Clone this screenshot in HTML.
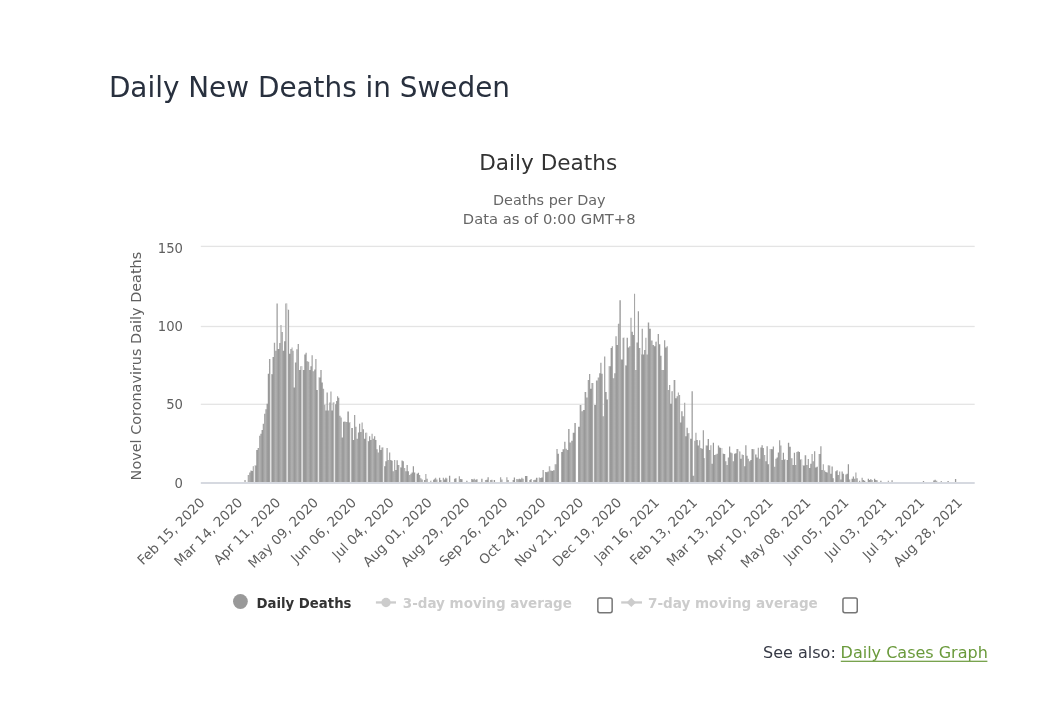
<!DOCTYPE html>
<html lang="en"><head><meta charset="utf-8"><title>Daily New Deaths in Sweden</title>
<style>html,body{margin:0;padding:0;background:#fff;}svg{display:block;}</style></head>
<body>
<svg width="1046" height="704" viewBox="0 0 1046 704">
<rect width="1046" height="704" fill="#fff"/>
<text x="108.9" y="96.8" font-family='"DejaVu Sans", "Liberation Sans", sans-serif' font-size="28.2" fill="#28303e" textLength="401.1" lengthAdjust="spacingAndGlyphs">Daily New Deaths in Sweden</text>
<text x="548.2" y="169.5" text-anchor="middle" font-family='"DejaVu Sans", "Liberation Sans", sans-serif' font-size="21.5" fill="#333" textLength="138" lengthAdjust="spacingAndGlyphs">Daily Deaths</text>
<text x="549.3" y="204.7" text-anchor="middle" font-family='"DejaVu Sans", "Liberation Sans", sans-serif' font-size="13.3" fill="#666" textLength="112.7" lengthAdjust="spacingAndGlyphs">Deaths per Day</text>
<text x="549.2" y="223.6" text-anchor="middle" font-family='"DejaVu Sans", "Liberation Sans", sans-serif' font-size="13.3" fill="#666" textLength="172.8" lengthAdjust="spacingAndGlyphs">Data as of 0:00 GMT+8</text>
<rect x="200.8" y="245.75" width="773.9" height="1.3" fill="#e4e4e4"/>
<rect x="200.8" y="325.85" width="773.9" height="1.3" fill="#e4e4e4"/>
<rect x="200.8" y="403.65" width="773.9" height="1.3" fill="#e4e4e4"/>
<text x="183" y="252.8" text-anchor="end" font-family='"DejaVu Sans", "Liberation Sans", sans-serif' font-size="13.2" fill="#5f5f5f">150</text>
<text x="183" y="330.8" text-anchor="end" font-family='"DejaVu Sans", "Liberation Sans", sans-serif' font-size="13.2" fill="#5f5f5f">100</text>
<text x="183" y="408.8" text-anchor="end" font-family='"DejaVu Sans", "Liberation Sans", sans-serif' font-size="13.2" fill="#5f5f5f">50</text>
<text x="183" y="487.9" text-anchor="end" font-family='"DejaVu Sans", "Liberation Sans", sans-serif' font-size="13.2" fill="#5f5f5f">0</text>
<text transform="translate(140.5,366.1) rotate(-90)" text-anchor="middle" font-family='"DejaVu Sans", "Liberation Sans", sans-serif' font-size="14.7" fill="#606060" textLength="228.6" lengthAdjust="spacingAndGlyphs">Novel Coronavirus Daily Deaths</text>
<text transform="translate(205.50,503.4) rotate(-45)" text-anchor="end" font-family='"DejaVu Sans", "Liberation Sans", sans-serif' font-size="13.5" fill="#5f5f5f">Feb 15, 2020</text>
<text transform="translate(243.38,503.4) rotate(-45)" text-anchor="end" font-family='"DejaVu Sans", "Liberation Sans", sans-serif' font-size="13.5" fill="#5f5f5f">Mar 14, 2020</text>
<text transform="translate(281.27,503.4) rotate(-45)" text-anchor="end" font-family='"DejaVu Sans", "Liberation Sans", sans-serif' font-size="13.5" fill="#5f5f5f">Apr 11, 2020</text>
<text transform="translate(319.15,503.4) rotate(-45)" text-anchor="end" font-family='"DejaVu Sans", "Liberation Sans", sans-serif' font-size="13.5" fill="#5f5f5f">May 09, 2020</text>
<text transform="translate(357.04,503.4) rotate(-45)" text-anchor="end" font-family='"DejaVu Sans", "Liberation Sans", sans-serif' font-size="13.5" fill="#5f5f5f">Jun 06, 2020</text>
<text transform="translate(394.92,503.4) rotate(-45)" text-anchor="end" font-family='"DejaVu Sans", "Liberation Sans", sans-serif' font-size="13.5" fill="#5f5f5f">Jul 04, 2020</text>
<text transform="translate(432.81,503.4) rotate(-45)" text-anchor="end" font-family='"DejaVu Sans", "Liberation Sans", sans-serif' font-size="13.5" fill="#5f5f5f">Aug 01, 2020</text>
<text transform="translate(470.69,503.4) rotate(-45)" text-anchor="end" font-family='"DejaVu Sans", "Liberation Sans", sans-serif' font-size="13.5" fill="#5f5f5f">Aug 29, 2020</text>
<text transform="translate(508.58,503.4) rotate(-45)" text-anchor="end" font-family='"DejaVu Sans", "Liberation Sans", sans-serif' font-size="13.5" fill="#5f5f5f">Sep 26, 2020</text>
<text transform="translate(546.46,503.4) rotate(-45)" text-anchor="end" font-family='"DejaVu Sans", "Liberation Sans", sans-serif' font-size="13.5" fill="#5f5f5f">Oct 24, 2020</text>
<text transform="translate(584.35,503.4) rotate(-45)" text-anchor="end" font-family='"DejaVu Sans", "Liberation Sans", sans-serif' font-size="13.5" fill="#5f5f5f">Nov 21, 2020</text>
<text transform="translate(622.23,503.4) rotate(-45)" text-anchor="end" font-family='"DejaVu Sans", "Liberation Sans", sans-serif' font-size="13.5" fill="#5f5f5f">Dec 19, 2020</text>
<text transform="translate(660.12,503.4) rotate(-45)" text-anchor="end" font-family='"DejaVu Sans", "Liberation Sans", sans-serif' font-size="13.5" fill="#5f5f5f">Jan 16, 2021</text>
<text transform="translate(698.00,503.4) rotate(-45)" text-anchor="end" font-family='"DejaVu Sans", "Liberation Sans", sans-serif' font-size="13.5" fill="#5f5f5f">Feb 13, 2021</text>
<text transform="translate(735.89,503.4) rotate(-45)" text-anchor="end" font-family='"DejaVu Sans", "Liberation Sans", sans-serif' font-size="13.5" fill="#5f5f5f">Mar 13, 2021</text>
<text transform="translate(773.77,503.4) rotate(-45)" text-anchor="end" font-family='"DejaVu Sans", "Liberation Sans", sans-serif' font-size="13.5" fill="#5f5f5f">Apr 10, 2021</text>
<text transform="translate(811.66,503.4) rotate(-45)" text-anchor="end" font-family='"DejaVu Sans", "Liberation Sans", sans-serif' font-size="13.5" fill="#5f5f5f">May 08, 2021</text>
<text transform="translate(849.54,503.4) rotate(-45)" text-anchor="end" font-family='"DejaVu Sans", "Liberation Sans", sans-serif' font-size="13.5" fill="#5f5f5f">Jun 05, 2021</text>
<text transform="translate(887.43,503.4) rotate(-45)" text-anchor="end" font-family='"DejaVu Sans", "Liberation Sans", sans-serif' font-size="13.5" fill="#5f5f5f">Jul 03, 2021</text>
<text transform="translate(925.31,503.4) rotate(-45)" text-anchor="end" font-family='"DejaVu Sans", "Liberation Sans", sans-serif' font-size="13.5" fill="#5f5f5f">Jul 31, 2021</text>
<text transform="translate(963.20,503.4) rotate(-45)" text-anchor="end" font-family='"DejaVu Sans", "Liberation Sans", sans-serif' font-size="13.5" fill="#5f5f5f">Aug 28, 2021</text>
<defs><linearGradient id="bg" x1="0" y1="0" x2="1" y2="0"><stop offset="0" stop-color="#9b9b9b"/><stop offset="0.17" stop-color="#979797"/><stop offset="0.33" stop-color="#b3b3b3"/><stop offset="0.5" stop-color="#979797"/><stop offset="0.67" stop-color="#b3b3b3"/><stop offset="0.83" stop-color="#979797"/><stop offset="1" stop-color="#9b9b9b"/></linearGradient><pattern id="bp" patternUnits="userSpaceOnUse" x="254.4" y="0" width="16.11" height="704"><rect width="16.11" height="704" fill="url(#bg)"/></pattern><clipPath id="bc"><path d="M244.34 482.0V480.07H245.66V482.0zM247.72 482.0V475.03H249.06V472.51H250.38V470.62H251.56V470.93H252.75V466.21H254.50V465.58H256.25V449.99H257.63V448.10H259.00V435.66H260.25V433.77H261.50V429.99H262.75V423.69H264.00V413.77H265.25V409.36H266.50V403.69H267.78V373.78H268.97V358.97H270.70V374.25H272.55V356.93H273.85V342.75H275.15V350.63H276.40V303.39H277.80V349.05H279.20V343.07H280.40V324.96H281.62V331.89H282.88V350.63H284.12V341.18H285.32V303.39H287.20V309.69H289.10V353.78H290.30V349.05H291.50V347.48H292.60V350.63H293.65V387.48H294.90V362.44H296.25V349.37H297.57V344.01H299.00V370.00H300.38V366.37H302.30V370.00H304.30V354.41H305.55V352.68H306.75V361.18H308.00V361.65H309.20V370.00H310.40V366.37H311.55V355.35H312.80V371.26H314.12V369.52H315.32V358.97H316.45V389.99H318.38V377.40H320.38V370.00H321.62V382.44H322.88V388.73H324.12V404.80H325.38V410.47H326.55V392.51H327.80V410.47H329.12V402.59H330.32V391.57H331.50V410.47H332.70V402.59H334.45V404.17H336.10V401.02H337.10V396.29H338.15V397.87H339.35V415.66H340.62V417.55H341.75V437.55H343.00V421.80H344.38V421.49H345.62V421.96H347.31V411.57H348.88V422.43H350.81V428.10H352.88V440.07H354.06V415.03H355.31V426.84H356.62V438.81H357.88V432.51H359.06V423.69H360.25V431.88H361.50V422.43H362.75V429.36H364.00V438.81H365.25V432.83H367.19V441.17H369.06V436.29H370.25V440.07H371.50V433.77H372.75V438.81H374.00V436.29H375.25V440.07H376.50V449.36H377.75V452.51H379.00V445.27H380.25V449.99H381.50V447.47H383.44V466.21H385.31V461.33H386.50V447.94H387.75V460.07H389.00V452.51H390.25V460.07H391.50V460.70H392.75V471.25H394.00V460.07H395.25V469.99H396.50V460.22H397.75V464.95H399.63V467.47H401.50V460.38H402.75V461.33H404.00V468.10H405.25V471.25H406.50V464.95H407.75V471.25H409.00V475.03H410.25V473.77H411.50V472.51H412.75V466.21H414.00V472.51H415.28V482.0zM416.46 482.0V473.77H417.75V472.82H419.00V475.03H420.25V478.18H421.50V479.44H422.78V482.0zM423.96 482.0V480.07H425.25V473.92H426.50V478.81H427.78V482.0zM430.22 482.0V480.70H431.54V482.0zM433.09 482.0V479.75H434.25V478.81H435.19V477.70H436.25V479.44H437.54V482.0zM438.96 482.0V477.70H440.25V480.07H441.54V482.0zM442.72 482.0V477.70H444.00V479.44H445.25V477.70H446.50V478.81H447.78V482.0zM448.96 482.0V475.81H450.28V482.0zM453.96 482.0V478.81H455.25V478.18H456.54V482.0zM458.72 482.0V476.29H460.00V478.96H461.25V479.28H462.54V482.0zM466.22 482.0V480.70H467.54V482.0zM471.22 482.0V478.96H472.50V479.44H473.75V478.81H475.00V479.75H476.25V479.28H477.54V482.0zM481.22 482.0V478.81H482.54V482.0zM484.96 482.0V480.07H486.25V479.75H487.50V477.23H488.78V482.0zM489.96 482.0V480.07H491.25V479.75H492.54V482.0zM493.72 482.0V480.07H495.04V482.0zM499.96 482.0V477.23H501.25V479.44H502.54V482.0zM506.22 482.0V477.23H507.50V480.07H508.78V482.0zM512.46 482.0V480.07H513.75V477.55H515.04V482.0zM516.22 482.0V478.96H517.50V479.28H518.75V478.81H520.00V479.28H521.25V477.70H522.50V478.81H523.78V482.0zM524.96 482.0V475.97H526.25V475.97H527.54V482.0zM529.34 482.0V480.07H530.50V478.96H531.66V482.0zM533.09 482.0V480.07H534.38V479.75H535.94V477.70H537.54V482.0zM538.72 482.0V477.55H540.00V478.02H541.25V477.55H542.57V469.99H543.91V482.0zM544.96 482.0V471.88H546.25V472.19H547.50V471.56H548.81V466.21H550.25V470.62H551.62V470.93H552.88V470.30H554.62V464.32H556.38V449.04H557.62V453.77H558.91V482.0zM561.22 482.0V451.88H562.57V449.36H564.12V441.80H565.62V448.73H566.88V449.99H568.19V429.05H569.57V442.43H571.07V440.70H572.69V432.83H574.38V423.06H575.91V482.0zM578.09 482.0V426.84H579.70V404.95H581.45V411.25H582.94V409.99H584.62V391.88H586.25V397.55H587.69V380.07H589.06V373.93H590.25V388.73H591.50V383.07H593.56V404.95H595.94V380.55H597.69V377.55H599.12V373.15H600.32V362.75H601.50V373.78H602.75V416.29H604.00V356.45H605.31V391.88H606.62V399.44H608.62V366.22H610.62V348.11H611.75V346.22H612.88V378.18H614.12V373.15H615.38V336.30H616.62V344.96H617.88V323.86H619.24V300.24H620.93V359.45H622.63V337.72H624.69V365.59H626.62V337.72H627.88V347.48H629.12V346.22H630.33V317.72H631.60V331.73H632.85V334.88H634.00V293.78H635.11V370.00H636.37V342.44H637.76V311.26H638.95V348.11H640.38V354.41H641.67V328.74H642.80V354.41H644.12V350.00H645.32V337.72H646.50V354.41H647.76V322.44H649.19V328.74H650.93V340.55H652.63V344.96H654.07V346.22H655.38V341.81H657.19V333.94H659.00V344.33H660.31V355.67H661.62V370.00H662.88V370.00H664.06V340.24H665.25V347.48H666.57V346.22H667.88V389.99H669.06V384.96H670.25V403.69H671.50V391.25H673.37V380.07H675.31V398.18H676.62V396.29H677.82V392.51H679.00V395.03H680.12V422.43H681.25V411.25H682.63V416.29H684.00V402.75H685.25V436.29H686.50V427.79H687.75V433.14H689.69V438.81H691.55V391.25H692.80V475.81H694.12V440.70H695.32V432.83H696.50V440.07H697.75V445.58H699.00V440.23H700.25V448.10H701.50V448.73H702.75V430.31H703.88V458.18H705.63V445.58H707.63V438.97H709.00V449.99H710.25V445.27H711.50V463.69H712.75V442.75H714.00V455.03H715.25V454.40H716.50V453.77H717.81V445.58H719.12V447.47H720.38V448.10H722.25V453.77H724.06V453.93H725.25V461.33H726.50V464.95H727.75V457.55H729.00V446.53H730.25V452.51H731.50V453.14H732.75V461.33H734.00V453.77H735.25V453.14H736.50V449.04H738.43V451.56H740.38V458.81H741.62V454.40H742.82V455.03H744.00V466.21H745.25V445.27H746.50V455.66H747.75V458.81H749.00V461.33H750.25V460.07H751.50V449.04H752.75V449.36H754.63V454.40H756.50V457.55H757.75V447.78H759.00V458.81H760.25V447.47H761.50V445.27H762.75V448.10H764.00V455.03H765.25V461.33H766.50V446.21H767.75V464.32H769.63V449.04H771.50V449.36H772.75V446.53H774.00V466.84H775.25V458.81H776.50V457.55H777.75V452.51H779.00V440.23H780.25V445.58H781.50V460.07H782.75V452.82H784.00V459.44H785.93V460.07H787.88V442.75H789.22V446.84H790.91V458.18H792.50V464.95H793.81V452.82H795.06V464.95H796.25V451.88H797.50V451.25H798.75V451.88H800.00V459.44H802.18V465.58H804.68V455.19H806.25V464.95H807.63V458.97H809.00V468.10H810.25V463.69H811.50V453.93H812.75V461.33H814.00V451.25H815.25V467.47H816.50V466.84H818.43V453.93H820.32V446.21H821.50V469.99H822.75V464.32H824.00V470.62H825.25V471.88H826.50V472.51H827.75V465.26H829.00V465.58H830.25V473.77H831.50V466.52H832.75V478.18H834.04V482.0zM835.22 482.0V471.25H836.50V470.30H837.75V475.03H839.00V471.56H840.25V479.44H841.50V471.56H842.75V473.77H844.04V482.0zM845.22 482.0V474.40H846.50V473.77H847.75V464.32H849.00V479.44H850.28V482.0zM851.46 482.0V478.81H852.75V476.44H854.00V478.81H855.25V472.51H856.50V478.18H857.78V482.0zM858.96 482.0V480.70H860.28V482.0zM861.46 482.0V477.70H862.75V480.07H864.00V480.70H865.28V482.0zM867.72 482.0V478.81H869.00V480.07H870.25V478.96H871.50V480.07H872.78V482.0zM873.96 482.0V478.81H875.25V480.07H876.50V480.22H877.78V482.0zM880.22 482.0V480.70H881.54V482.0zM887.72 482.0V480.70H889.04V482.0zM891.46 482.0V480.22H892.78V482.0zM922.84 482.0V481.01H924.16V482.0zM933.24 482.0V480.54H934.55V479.75H935.90V480.85H937.26V482.0zM940.64 482.0V481.01H941.96V482.0zM947.44 482.0V481.01H948.76V482.0zM954.94 482.0V479.12H956.26V482.0z"/></clipPath></defs><g clip-path="url(#bc)"><rect x="200" y="240" width="780" height="245" fill="url(#bp)"/><rect x="253.45" y="240" width="1.9" height="245" fill="#ececec" opacity="0.45"/><rect x="253.90" y="240" width="1.0" height="245" fill="#ececec"/><rect x="269.75" y="240" width="1.9" height="245" fill="#ececec" opacity="0.45"/><rect x="270.20" y="240" width="1.0" height="245" fill="#ececec"/><rect x="286.25" y="240" width="1.9" height="245" fill="#ececec" opacity="0.45"/><rect x="286.70" y="240" width="1.0" height="245" fill="#ececec"/><rect x="301.15" y="240" width="1.9" height="245" fill="#ececec" opacity="0.45"/><rect x="301.60" y="240" width="1.0" height="245" fill="#ececec"/><rect x="317.45" y="240" width="1.9" height="245" fill="#ececec" opacity="0.45"/><rect x="317.90" y="240" width="1.0" height="245" fill="#ececec"/><rect x="333.45" y="240" width="1.9" height="245" fill="#ececec" opacity="0.45"/><rect x="333.90" y="240" width="1.0" height="245" fill="#ececec"/><rect x="349.65" y="240" width="1.9" height="245" fill="#ececec" opacity="0.45"/><rect x="350.10" y="240" width="1.0" height="245" fill="#ececec"/><rect x="366.25" y="240" width="1.9" height="245" fill="#ececec" opacity="0.45"/><rect x="366.70" y="240" width="1.0" height="245" fill="#ececec"/><rect x="382.55" y="240" width="1.9" height="245" fill="#ececec" opacity="0.45"/><rect x="383.00" y="240" width="1.0" height="245" fill="#ececec"/><rect x="398.65" y="240" width="1.9" height="245" fill="#ececec" opacity="0.45"/><rect x="399.10" y="240" width="1.0" height="245" fill="#ececec"/><rect x="414.95" y="240" width="1.9" height="245" fill="#ececec" opacity="0.45"/><rect x="415.40" y="240" width="1.0" height="245" fill="#ececec"/><rect x="430.66" y="240" width="1.9" height="245" fill="#ececec" opacity="0.45"/><rect x="431.11" y="240" width="1.0" height="245" fill="#ececec"/><rect x="446.77" y="240" width="1.9" height="245" fill="#ececec" opacity="0.45"/><rect x="447.22" y="240" width="1.0" height="245" fill="#ececec"/><rect x="462.88" y="240" width="1.9" height="245" fill="#ececec" opacity="0.45"/><rect x="463.33" y="240" width="1.0" height="245" fill="#ececec"/><rect x="478.99" y="240" width="1.9" height="245" fill="#ececec" opacity="0.45"/><rect x="479.44" y="240" width="1.0" height="245" fill="#ececec"/><rect x="495.10" y="240" width="1.9" height="245" fill="#ececec" opacity="0.45"/><rect x="495.55" y="240" width="1.0" height="245" fill="#ececec"/><rect x="511.21" y="240" width="1.9" height="245" fill="#ececec" opacity="0.45"/><rect x="511.66" y="240" width="1.0" height="245" fill="#ececec"/><rect x="527.32" y="240" width="1.9" height="245" fill="#ececec" opacity="0.45"/><rect x="527.77" y="240" width="1.0" height="245" fill="#ececec"/><rect x="543.45" y="240" width="1.9" height="245" fill="#ececec" opacity="0.45"/><rect x="543.90" y="240" width="1.0" height="245" fill="#ececec"/><rect x="559.05" y="240" width="1.9" height="245" fill="#ececec" opacity="0.45"/><rect x="559.50" y="240" width="1.0" height="245" fill="#ececec"/><rect x="575.55" y="240" width="1.9" height="245" fill="#ececec" opacity="0.45"/><rect x="576.00" y="240" width="1.0" height="245" fill="#ececec"/><rect x="592.55" y="240" width="1.9" height="245" fill="#ececec" opacity="0.45"/><rect x="593.00" y="240" width="1.0" height="245" fill="#ececec"/><rect x="607.65" y="240" width="1.9" height="245" fill="#ececec" opacity="0.45"/><rect x="608.10" y="240" width="1.0" height="245" fill="#ececec"/><rect x="623.65" y="240" width="1.9" height="245" fill="#ececec" opacity="0.45"/><rect x="624.10" y="240" width="1.0" height="245" fill="#ececec"/><rect x="639.55" y="240" width="1.9" height="245" fill="#ececec" opacity="0.45"/><rect x="640.00" y="240" width="1.0" height="245" fill="#ececec"/><rect x="656.35" y="240" width="1.9" height="245" fill="#ececec" opacity="0.45"/><rect x="656.80" y="240" width="1.0" height="245" fill="#ececec"/><rect x="672.35" y="240" width="1.9" height="245" fill="#ececec" opacity="0.45"/><rect x="672.80" y="240" width="1.0" height="245" fill="#ececec"/><rect x="688.45" y="240" width="1.9" height="245" fill="#ececec" opacity="0.45"/><rect x="688.90" y="240" width="1.0" height="245" fill="#ececec"/><rect x="704.35" y="240" width="1.9" height="245" fill="#ececec" opacity="0.45"/><rect x="704.80" y="240" width="1.0" height="245" fill="#ececec"/><rect x="720.95" y="240" width="1.9" height="245" fill="#ececec" opacity="0.45"/><rect x="721.40" y="240" width="1.0" height="245" fill="#ececec"/><rect x="737.65" y="240" width="1.9" height="245" fill="#ececec" opacity="0.45"/><rect x="738.10" y="240" width="1.0" height="245" fill="#ececec"/><rect x="753.45" y="240" width="1.9" height="245" fill="#ececec" opacity="0.45"/><rect x="753.90" y="240" width="1.0" height="245" fill="#ececec"/><rect x="768.85" y="240" width="1.9" height="245" fill="#ececec" opacity="0.45"/><rect x="769.30" y="240" width="1.0" height="245" fill="#ececec"/><rect x="785.05" y="240" width="1.9" height="245" fill="#ececec" opacity="0.45"/><rect x="785.50" y="240" width="1.0" height="245" fill="#ececec"/><rect x="801.15" y="240" width="1.9" height="245" fill="#ececec" opacity="0.45"/><rect x="801.60" y="240" width="1.0" height="245" fill="#ececec"/><rect x="817.55" y="240" width="1.9" height="245" fill="#ececec" opacity="0.45"/><rect x="818.00" y="240" width="1.0" height="245" fill="#ececec"/><rect x="833.45" y="240" width="1.9" height="245" fill="#ececec" opacity="0.45"/><rect x="833.90" y="240" width="1.0" height="245" fill="#ececec"/><rect x="849.52" y="240" width="1.9" height="245" fill="#ececec" opacity="0.45"/><rect x="849.97" y="240" width="1.0" height="245" fill="#ececec"/><rect x="865.63" y="240" width="1.9" height="245" fill="#ececec" opacity="0.45"/><rect x="866.08" y="240" width="1.0" height="245" fill="#ececec"/><rect x="881.74" y="240" width="1.9" height="245" fill="#ececec" opacity="0.45"/><rect x="882.19" y="240" width="1.0" height="245" fill="#ececec"/></g>
<rect x="200.8" y="482.0" width="773.9" height="2.0" fill="#d6d9e0"/>
<circle cx="240.4" cy="601.5" r="7.4" fill="#999"/>
<text x="256.5" y="607.6" font-family='"DejaVu Sans", "Liberation Sans", sans-serif' font-weight="bold" font-size="14.3" fill="#333" textLength="95" lengthAdjust="spacingAndGlyphs">Daily Deaths</text>
<rect x="375.9" y="601.3" width="20.1" height="2.3" fill="#ccc"/><circle cx="386" cy="602.5" r="4.7" fill="#ccc"/>
<text x="402.8" y="607.6" font-family='"DejaVu Sans", "Liberation Sans", sans-serif' font-weight="bold" font-size="14.3" fill="#ccc" textLength="169" lengthAdjust="spacingAndGlyphs">3-day moving average</text>
<rect x="597.85" y="597.95" width="14.3" height="14.7" rx="1.9" fill="#fff" stroke="#767676" stroke-width="1.5"/>
<rect x="621.2" y="601.3" width="20.8" height="2.3" fill="#ccc"/><path d="M631.3 597.7 L636 602.4 L631.3 607.1 L626.6 602.4 Z" fill="#ccc"/>
<text x="648" y="607.6" font-family='"DejaVu Sans", "Liberation Sans", sans-serif' font-weight="bold" font-size="14.3" fill="#ccc" textLength="169.8" lengthAdjust="spacingAndGlyphs">7-day moving average</text>
<rect x="842.95" y="597.95" width="14.3" height="14.7" rx="1.9" fill="#fff" stroke="#767676" stroke-width="1.5"/>
<text x="763.0" y="658.3" font-family='"DejaVu Sans", "Liberation Sans", sans-serif' font-size="16" fill="#363945" textLength="72.8" lengthAdjust="spacingAndGlyphs">See also:</text>
<text x="840.6" y="658.3" font-family='"DejaVu Sans", "Liberation Sans", sans-serif' font-size="16" fill="#6a9a3b" textLength="147.2" lengthAdjust="spacingAndGlyphs">Daily Cases Graph</text>
<rect x="840.8" y="660.7" width="146.6" height="1.2" fill="#6a9a3b"/>
</svg>
</body></html>
